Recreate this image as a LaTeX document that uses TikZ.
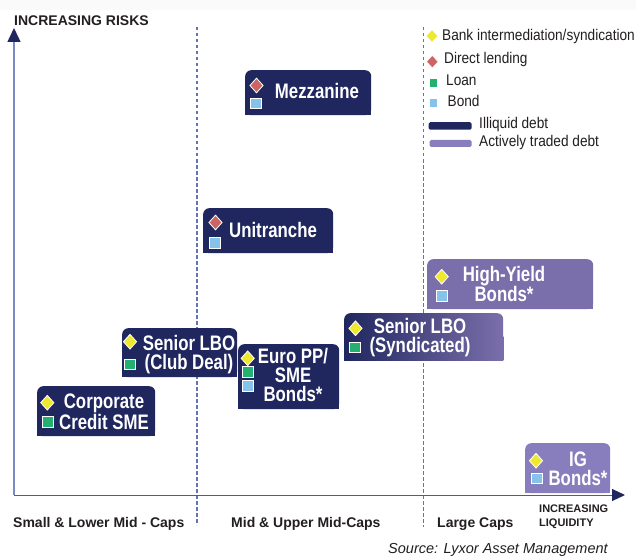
\documentclass[tikz,border=0pt]{standalone}
\usepackage{fontspec}
\setmainfont{Liberation Sans}
\newfontfamily\condfont[FakeStretch=0.8]{Liberation Sans}
\newfontfamily\legendfont[FakeStretch=0.88]{Liberation Sans}
\usepackage{xcolor}
\usepackage{tikz}
\usetikzlibrary{arrows.meta, shapes.geometric, positioning}
\definecolor{DebtNavy}{HTML}{20275F}
\definecolor{TradedPurple}{HTML}{7B6FAB}
\definecolor{IGPurple}{HTML}{887EBE}
\definecolor{AxisBlue}{HTML}{7D89C3}
\definecolor{AxisDark}{HTML}{4B5A9E}
\definecolor{DashBlue}{HTML}{6473B5}
\definecolor{MarkYellow}{HTML}{EEE82E}
\definecolor{MarkRed}{HTML}{CD6464}
\definecolor{MarkGreen}{HTML}{23B070}
\definecolor{MarkBlue}{HTML}{86C3EA}
\definecolor{LabelGray}{HTML}{231F20}
\tikzset{
  >=latex,
  % riquadri (angoli arrotondati solo in alto)
  debt box/.style={anchor=north west,rounded corners=6pt,inner sep=0},
  illiquid/.style={debt box,fill=DebtNavy},
  traded/.style={debt box,fill=TradedPurple},
  box text/.style={text=white,font=\condfont\bfseries\fontsize{21}{19}\selectfont,align=center,inner sep=0},
  % marcatori
  marker/.style={draw=white,line width=0.8pt,inner sep=0},
  bank marker/.style={marker,diamond,fill=MarkYellow,minimum width=13.5,minimum height=15},
  direct marker/.style={marker,diamond,fill=MarkRed,minimum width=13.5,minimum height=15},
  loan marker/.style={marker,rectangle,fill=MarkGreen,minimum size=10.5},
  bond marker/.style={marker,rectangle,fill=MarkBlue,minimum size=10.5},
  small diamond/.style={line width=0.4pt,minimum width=11.5,minimum height=12.5},
  small square/.style={line width=0.4pt,minimum size=8.5},
  % testi
  axis label/.style={text=LabelGray,font=\bfseries\fontsize{14}{16}\selectfont,inner sep=0},
  legend text/.style={text=LabelGray,font=\legendfont\fontsize{15.5}{17}\selectfont,inner sep=0,anchor=base west},
  separator/.style={DashBlue,line width=1.2pt,dash pattern=on 3.5pt off 2.5pt}
}

\begin{document}
\begin{tikzpicture}[x=1pt,y=-1pt]
    \useasboundingbox[fill=white] (0,0) rectangle (636,556);
    \fill[gray!4] (0,0) rectangle (636,10);
    % separatori
    \draw[separator] (197,27)--(197,525);
    \draw[separator] (423.5,27)--(423.5,527);
    % assi
    \coordinate (origin) at (14,495);
    \coordinate (risk tip) at (14,28);
    \coordinate (liq tip) at (625,495);
    \draw[AxisBlue,line width=1.4pt,-{Triangle[length=14pt,width=13pt,color=DebtNavy]}] (origin)--(risk tip);
    \draw[AxisDark,line width=1pt,-{Triangle[length=13pt,width=12pt,color=DebtNavy]}] (origin)--(liq tip);
    \node[axis label,anchor=base west] (risks) at (14,26) {INCREASING RISKS};
    \node[axis label,anchor=base west] (small caps) at (13,527) {Small \& Lower Mid - Caps};
    \node[axis label,anchor=base west] (mid caps) at (231,527) {Mid \& Upper Mid-Caps};
    \node[axis label,anchor=base west] (large caps) at (437,527) {Large Caps};
    \node[axis label,anchor=north west,align=left,font=\bfseries\fontsize{11}{14}\selectfont] (liquidity) at (539,505) {INCREASING\\LIQUIDITY};
    \node[anchor=base west,inner sep=0,text=LabelGray,font=\itshape\fontsize{14.5}{16}\selectfont] (source) at (388,553) {Source: Lyxor Asset Management};

    % legenda
    \node[bank marker,small diamond] (leg bank) at (432,36) {};
    \node[legend text] (leg bank text) at (442,41) {Bank intermediation/syndication};
    \node[direct marker,small diamond] (leg direct) at (432.3,61.7) {};
    \node[legend text] (leg direct text) at (444,63.5) {Direct lending};
    \node[loan marker,small square] (leg loan) at (433.3,82.7) {};
    \node[legend text] (leg loan text) at (446,86) {Loan};
    \node[bond marker,small square] (leg bond) at (433.3,102.7) {};
    \node[legend text] (leg bond text) at (447.5,107) {Bond};
    \node[fill=DebtNavy,rounded corners=1.5pt,inner sep=0,minimum width=43,minimum height=7.5] (leg illiquid) at (450,126) {};
    \node[legend text] (leg illiquid text) at (479,129) {Illiquid debt};
    \node[fill=IGPurple,rounded corners=1.5pt,inner sep=0,minimum width=42,minimum height=7] (leg traded) at (450.5,143.5) {};
    \node[legend text] (leg traded text) at (479,146.5) {Actively traded debt};

    % Mezzanine
    \node[illiquid,minimum width=126,minimum height=45] (mezz) at (245,70) {};
    \fill[DebtNavy] (mezz.west) rectangle (mezz.south east);
    \node[box text,anchor=base] (mezz text) at (317,98.5) {Mezzanine};
    \node[direct marker] (mezz direct) at (256.5,85.5) {};
    \node[bond marker] (mezz bond) at (256,103.3) {};

    % Unitranche
    \node[illiquid,minimum width=130,minimum height=45] (unit) at (203,208) {};
    \fill[DebtNavy] (unit.west) rectangle (unit.south east);
    \node[box text,anchor=base] (unit text) at (273,237.5) {Unitranche};
    \node[direct marker] (unit direct) at (215.5,222.5) {};
    \node[bond marker] (unit bond) at (215,242.7) {};

    % Senior LBO (Club Deal)
    \node[illiquid,minimum width=115,minimum height=49] (club) at (122,328) {};
    \fill[DebtNavy] (club.west) rectangle (club.south east);
    \node[box text] (club text) at (189,354.5) {Senior LBO\\(Club Deal)};
    \node[bank marker] (club bank) at (130,341.7) {};
    \node[loan marker] (club loan) at (130,364.3) {};

    % Corporate Credit SME
    \node[illiquid,minimum width=118,minimum height=50] (corp) at (37,386) {};
    \fill[DebtNavy] (corp.west) rectangle (corp.south east);
    \node[box text] (corp text) at (104,411.5) {Corporate\\Credit SME};
    \node[bank marker] (corp bank) at (47.3,402.7) {};
    \node[loan marker] (corp loan) at (47.7,421.7) {};

    % Euro PP / SME Bonds
    \node[illiquid,minimum width=101,minimum height=65] (euro) at (238,344) {};
    \fill[DebtNavy] (euro.west) rectangle (euro.south east);
    \node[box text] (euro text) at (293,375) {Euro PP/\\SME\\Bonds*};
    \node[bank marker] (euro bank) at (247.7,358.3) {};
    \node[loan marker] (euro loan) at (247.7,371.7) {};
    \node[bond marker] (euro bond) at (247.7,386) {};

    % Senior LBO (Syndicated)
    \node[debt box,left color=DebtNavy,right color=TradedPurple,minimum width=159,minimum height=47] (synd) at (344,313) {};
    \shade[left color=DebtNavy,right color=TradedPurple] (synd.west) rectangle (synd.south east);
    \node[box text] (synd text) at (420,337.5) {Senior LBO\\(Syndicated)};
    \node[bank marker] (synd bank) at (355.5,328.3) {};
    \node[loan marker] (synd loan) at (355,347.3) {};

    % High-Yield Bonds
    \node[traded,minimum width=166,minimum height=50] (hy) at (427,259) {};
    \fill[TradedPurple] (hy.west) rectangle (hy.south east);
    \node[box text] (hy text) at (504,284) {High-Yield\\Bonds*};
    \node[bank marker] (hy bank) at (441.7,276.7) {};
    \node[bond marker] (hy bond) at (441.7,296) {};

    % IG Bonds
    \node[debt box,fill=IGPurple,minimum width=85,minimum height=50] (ig) at (525,443) {};
    \fill[IGPurple] (ig.west) rectangle (ig.south east);
    \node[box text] (ig text) at (578,469) {IG\\Bonds*};
    \node[bank marker] (ig bank) at (536,460.7) {};
    \node[bond marker] (ig bond) at (536.7,478.3) {};
  \end{tikzpicture}
\end{document}
